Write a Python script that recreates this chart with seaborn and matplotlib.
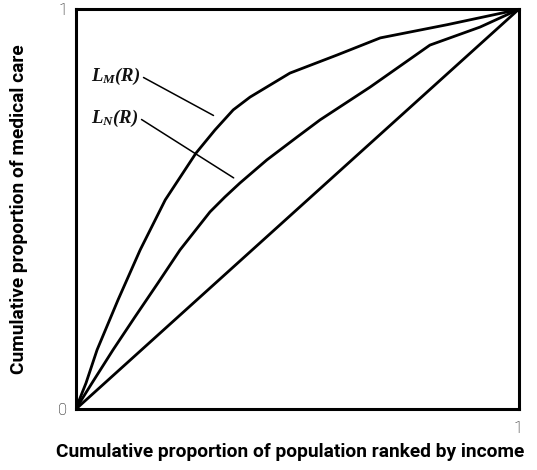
import matplotlib
matplotlib.use('Agg')
import matplotlib.pyplot as plt
import seaborn as sns
import pandas as pd

# Curve points (share of population, share of care)
lm_x = [0.0, 0.0237, 0.0487, 0.096, 0.146, 0.2026, 0.272, 0.315, 0.356, 0.394, 0.439, 0.484, 0.59, 0.688, 0.839, 1.0]
lm_y = [0.0, 0.066, 0.149, 0.274, 0.399, 0.524, 0.641, 0.699, 0.749, 0.781, 0.811, 0.841, 0.886, 0.929, 0.962, 1.0]
ln_x = [0.0, 0.0372, 0.0847, 0.134, 0.186, 0.236, 0.3036, 0.337, 0.371, 0.432, 0.5, 0.552, 0.665, 0.8, 0.913, 1.0]
ln_y = [0.0, 0.066, 0.149, 0.231, 0.316, 0.399, 0.494, 0.531, 0.566, 0.624, 0.681, 0.724, 0.806, 0.911, 0.956, 1.0]
eq_x = [0.0, 1.0]
eq_y = [0.0, 1.0]

sns.set_theme(style='white')
plt.rcParams['mathtext.fontset'] = 'custom'
plt.rcParams['mathtext.it'] = 'Liberation Serif:italic:bold'
plt.rcParams['mathtext.rm'] = 'Liberation Serif:italic:bold'

fig = plt.figure(figsize=(5.37, 4.70), dpi=100)
ax = fig.add_axes([0.1406, 0.1288, 0.825, 0.851])

for xs, ys in [(lm_x, lm_y), (ln_x, ln_y), (eq_x, eq_y)]:
    d = pd.DataFrame({'x': xs, 'y': ys})
    sns.lineplot(data=d, x='x', y='y', sort=False, color='black', linewidth=2.0, ax=ax)

# pointer lines to the curve labels
ax.plot([0.1535, 0.3115], [0.83, 0.735], color='black', linewidth=1.1)
ax.plot([0.149, 0.357], [0.725, 0.579], color='black', linewidth=1.1)
ax.text(0.147, 0.832, r'$L_M(R)$', ha='right', va='center', fontsize=13.5, color='#111111')
ax.text(0.142, 0.727, r'$L_N(R)$', ha='right', va='center', fontsize=13.5, color='#111111')

ax.set_xlim(0, 1)
ax.set_ylim(0, 1)
ax.set_xticks([1])
ax.set_xticklabels(['1'], family='Roboto', fontweight='light', fontsize=12)
ax.set_yticks([0, 1])
ax.set_yticklabels(['0', '1'], family='Roboto', fontweight='light', fontsize=12)
ax.tick_params(axis='both', length=0, pad=6, colors='black')
ax.tick_params(axis='x', pad=8)

for s in ax.spines.values():
    s.set_color('black')
    s.set_linewidth(2.2)

ax.set_xlabel('Cumulative proportion of population ranked by income', family='Roboto',
              fontweight='bold', fontsize=13.8, color='black')
ax.set_ylabel('Cumulative proportion of medical care', family='Roboto',
              fontweight='bold', fontsize=13.8, color='black')
ax.xaxis.set_label_coords(0.484, -0.083)
ax.yaxis.set_label_coords(-0.107, 0.5)

fig.savefig('out.png', dpi=100)
